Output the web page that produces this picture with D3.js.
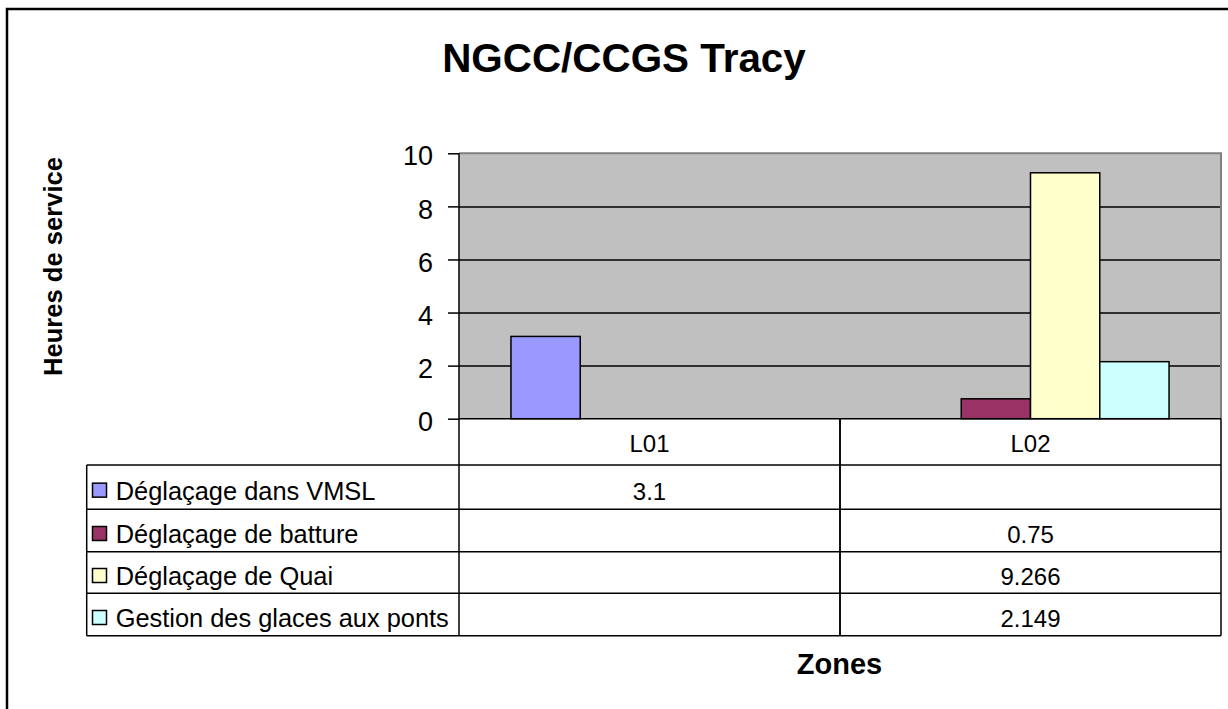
<!DOCTYPE html>
<html>
<head>
<meta charset="utf-8">
<script src="https://cdn.jsdelivr.net/npm/d3@7"></script>
<style>
  html, body { margin: 0; padding: 0; background: #fff; }
  svg { display: block; font-family: Arial, "Liberation Sans", sans-serif; }
</style>
</head>
<body>
<svg id="chart" width="1228" height="709"></svg>
<script>
// -- data --
const zones = ['L01', 'L02'];
const seriesNames = ['Déglaçage dans VMSL', 'Déglaçage de batture', 'Déglaçage de Quai', 'Gestion des glaces aux ponts'];
const vmsl = [3.1, null];
const batture = [null, 0.75];
const quai = [null, 9.266];
const ponts = [null, 2.149];
const yTicks = [0, 2, 4, 6, 8, 10];
const seriesColors = ['#9999FF', '#993366', '#FFFFCC', '#CCFFFF'];
const seriesValues = [vmsl, batture, quai, ponts];

const svg = d3.select('#chart');

// outer chart frame (runs off right/bottom edge)
svg.append('rect')
  .attr('x', 7).attr('y', 9).attr('width', 1240).attr('height', 720)
  .attr('fill', '#fff').attr('stroke', '#000').attr('stroke-width', 2.5);

const plot = { left: 459, top: 153.3, right: 1221, bottom: 418.7 };
const tableLeft = 86.7;
const headerBottom = 465;
const rowLines = [465, 509.3, 551.7, 593.3, 635.7];

const x = d3.scaleBand().domain(zones).range([plot.left, plot.right]).padding(0);
const xs = d3.scaleBand().domain(d3.range(seriesNames.length))
  .range([0, x.bandwidth()]).paddingInner(0).paddingOuter(0.75);
const y = d3.scaleLinear().domain([0, 10]).range([plot.bottom, plot.top]);

// plot background
svg.append('rect')
  .attr('x', plot.left).attr('y', plot.top)
  .attr('width', plot.right - plot.left).attr('height', plot.bottom - plot.top)
  .attr('fill', '#C0C0C0');

// gridlines
svg.append('g')
  .attr('transform', `translate(${plot.left},0)`)
  .call(d3.axisLeft(y).tickValues(yTicks.filter(v => v > 0 && v < 10)).tickSize(-(plot.right - plot.left)).tickFormat(''))
  .call(g => g.select('.domain').remove())
  .call(g => g.selectAll('line').attr('stroke', '#000').attr('stroke-width', 1.5));

// plot border top/right (gray)
svg.append('path')
  .attr('d', `M${plot.left},${plot.top}H${plot.right}V${plot.bottom}`)
  .attr('fill', 'none').attr('stroke', '#808080').attr('stroke-width', 2);

// bars
seriesValues.forEach((vals, si) => {
  svg.append('g').selectAll('rect')
    .data(zones.map((z, i) => ({ z, v: vals[i] })).filter(d => d.v != null))
    .enter().append('rect')
    .attr('x', d => x(d.z) + xs(si))
    .attr('y', d => y(d.v))
    .attr('width', xs.bandwidth())
    .attr('height', d => y(0) - y(d.v))
    .attr('fill', seriesColors[si])
    .attr('stroke', '#000').attr('stroke-width', 1.5);
});

// y axis
svg.append('g')
  .attr('transform', `translate(${plot.left},0)`)
  .call(d3.axisLeft(y).tickValues(yTicks).tickSize(11).tickPadding(15).tickFormat(d3.format('d')))
  .call(g => g.select('.domain').remove())
  .call(g => g.selectAll('line').attr('stroke', '#000').attr('stroke-width', 1.5))
  .call(g => g.selectAll('text')
    .attr('font-size', 27).attr('font-family', 'Arial, "Liberation Sans", sans-serif')
    .attr('fill', '#000').attr('dy', '0.43em'));

// data table lines
const tl = svg.append('g').attr('stroke', '#000').attr('stroke-width', 1.5);
tl.append('line').attr('x1', plot.left).attr('x2', plot.left).attr('y1', plot.top).attr('y2', rowLines[rowLines.length - 1]);
tl.append('line').attr('x1', plot.left).attr('x2', plot.right).attr('y1', plot.bottom).attr('y2', plot.bottom);
rowLines.forEach(ry => {
  tl.append('line').attr('x1', tableLeft).attr('x2', plot.right).attr('y1', ry).attr('y2', ry);
});
tl.append('line').attr('x1', tableLeft).attr('x2', tableLeft).attr('y1', headerBottom).attr('y2', rowLines[rowLines.length - 1]);
zones.forEach(z => {
  tl.append('line').attr('x1', x(z) + x.bandwidth()).attr('x2', x(z) + x.bandwidth())
    .attr('y1', plot.bottom).attr('y2', rowLines[rowLines.length - 1]);
});
tl.append('line').attr('x1', x('L02')).attr('x2', x('L02')).attr('y1', plot.bottom).attr('y2', rowLines[rowLines.length - 1]);

// header labels
svg.append('g').selectAll('text')
  .data(zones).enter().append('text')
  .attr('x', d => x(d) + x.bandwidth() / 2)
  .attr('y', 452.3)
  .attr('text-anchor', 'middle')
  .attr('font-size', 24)
  .text(d => d);

// rows: legend keys + values
seriesNames.forEach((name, si) => {
  const top = rowLines[si], bot = rowLines[si + 1];
  const mid = (top + bot) / 2;
  svg.append('rect')
    .attr('x', 92.5).attr('y', mid - 4).attr('width', 14).attr('height', 14)
    .attr('fill', seriesColors[si]).attr('stroke', '#000').attr('stroke-width', 1.5);
  svg.append('text')
    .attr('x', 115.7).attr('y', mid + 12.8)
    .attr('font-size', 25.4)
    .text(name);
  zones.forEach((z, zi) => {
    const v = seriesValues[si][zi];
    if (v == null) return;
    svg.append('text')
      .attr('x', x(z) + x.bandwidth() / 2)
      .attr('y', mid + 12.5)
      .attr('text-anchor', 'middle')
      .attr('font-size', 24)
      .text(String(v));
  });
});

// titles
svg.append('text')
  .attr('x', 624).attr('y', 72.3)
  .attr('text-anchor', 'middle')
  .attr('font-size', 40.4).attr('font-weight', 'bold')
  .text('NGCC/CCGS Tracy');

svg.append('text')
  .attr('transform', 'translate(62,266.5) rotate(-90)')
  .attr('text-anchor', 'middle')
  .attr('font-size', 25.6).attr('font-weight', 'bold')
  .text('Heures de service');

svg.append('text')
  .attr('x', 839.5).attr('y', 674)
  .attr('text-anchor', 'middle')
  .attr('font-size', 29).attr('font-weight', 'bold')
  .text('Zones');
</script>
</body>
</html>
